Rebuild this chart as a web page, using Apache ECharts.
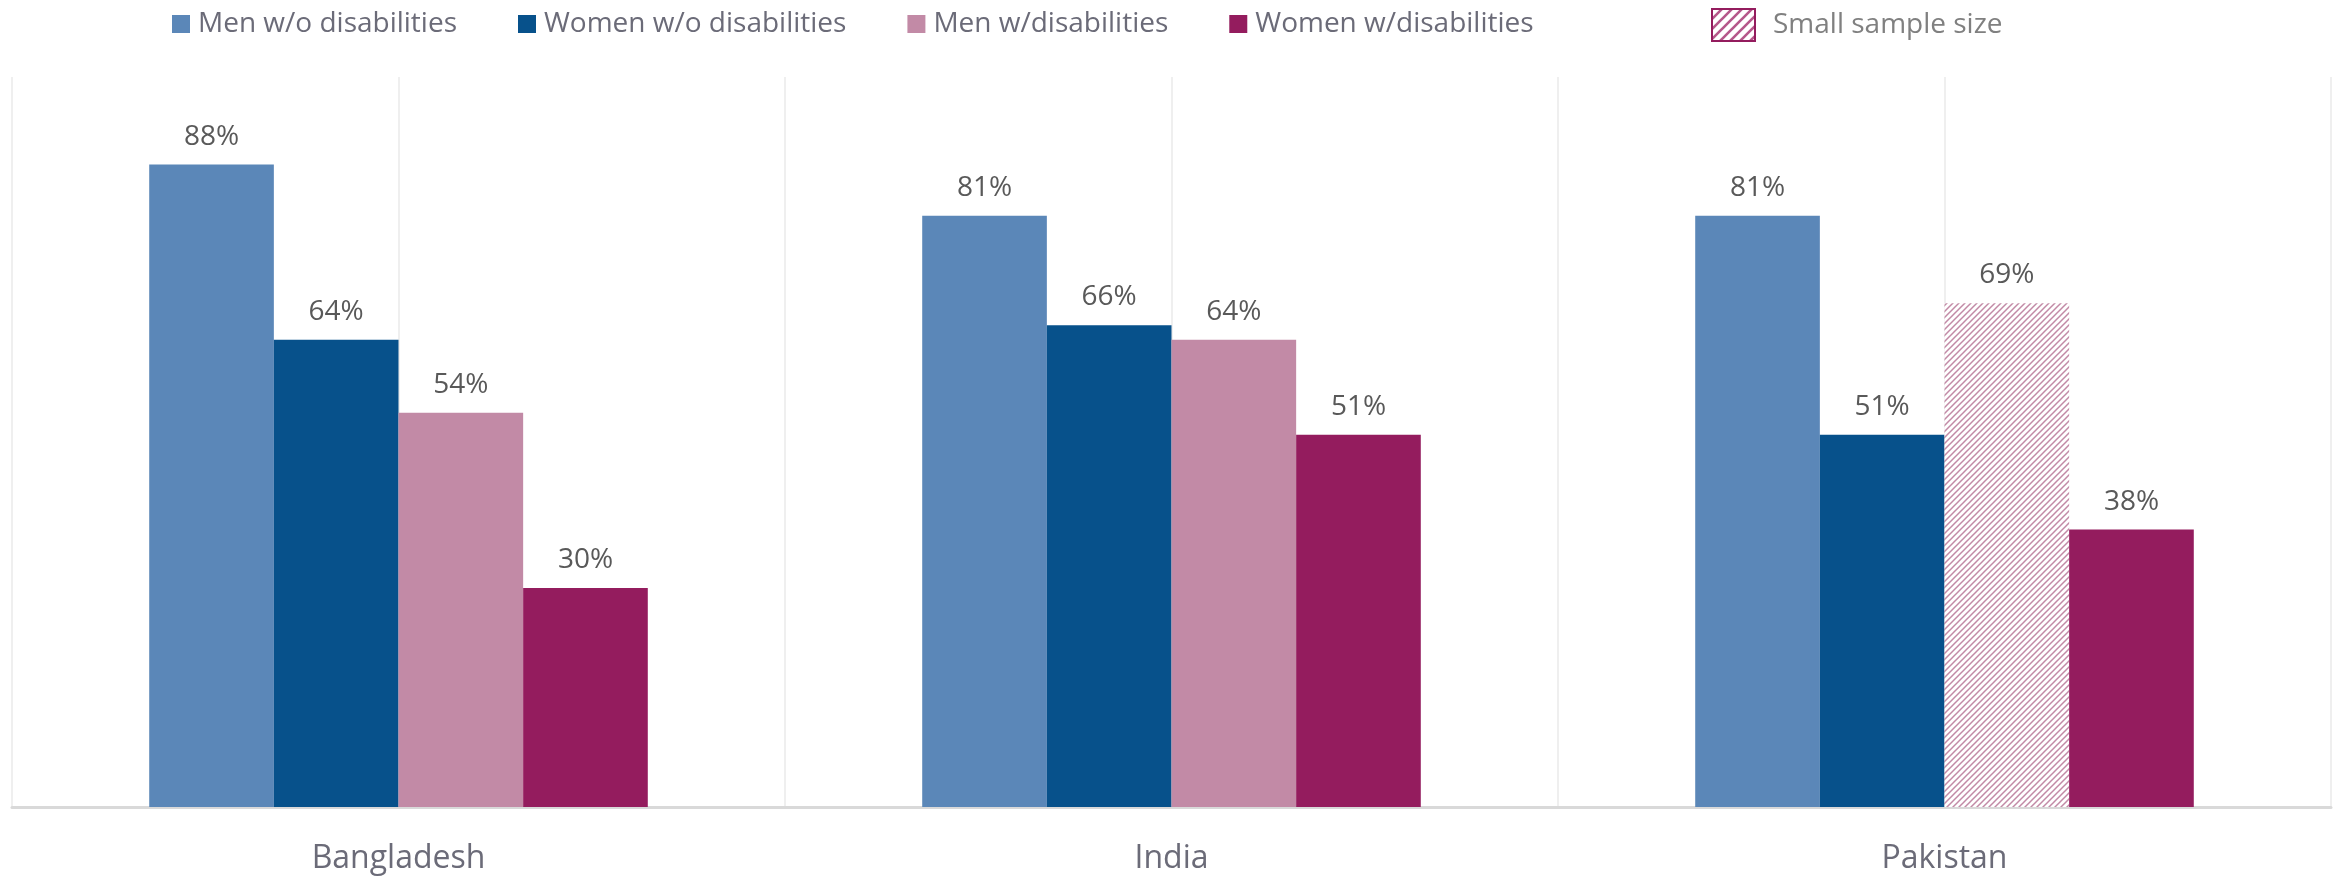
<!DOCTYPE html>
<html>
<head>
<meta charset="utf-8">
<script src="https://cdn.jsdelivr.net/npm/echarts@6/dist/echarts.min.js"></script>
<style>
  html, body { margin: 0; padding: 0; background: #ffffff; }
  #chart { width: 2339px; height: 876px; }
</style>
</head>
<body>
<div id="chart"></div>
<script>
// Share of each group (%), by country
const countries = ['Bangladesh', 'India', 'Pakistan'];
const seriesNames = ['Men w/o disabilities', 'Women w/o disabilities', 'Men w/disabilities', 'Women w/disabilities'];
const menWithout = [88, 81, 81];
const womenWithout = [64, 66, 51];
const menWith = [54, 64, 69];
const womenWith = [30, 51, 38];
// true where the estimate rests on a small sample
const menWithSmallSample = [false, false, true];
const smallSampleLabel = 'Small sample size';

const colors = ['#5B87B8', '#07518B', '#C28AA6', '#941C5E'];
const FONT = '"Open Sans", "Liberation Sans", sans-serif';
const TEXT = '#595959';

// Diagonal hatch tile (white ground, "///" strokes)
function hatchTile(size, width, lineColor) {
  const s = size;
  const c = document.createElement('canvas');
  c.width = s; c.height = s;
  const g = c.getContext('2d');
  g.fillStyle = '#ffffff';
  g.fillRect(0, 0, s, s);
  g.strokeStyle = lineColor;
  g.lineWidth = width;
  g.beginPath();
  g.moveTo(0, s); g.lineTo(s, 0);
  g.moveTo(-s / 2, s / 2); g.lineTo(s / 2, -s / 2);
  g.moveTo(s / 2, s + s / 2); g.lineTo(s + s / 2, s / 2);
  g.stroke();
  return c;
}
const barHatch = { image: hatchTile(6, 1.5, '#C28AA6'), repeat: 'repeat' };
const keyHatch = { image: hatchTile(10, 2.6, '#B5588A'), repeat: 'repeat' };

const valueLists = [menWithout, womenWithout, menWith, womenWith];

const labelStyle = {
  show: true,
  position: 'top',
  distance: 14,
  formatter: '{c}%',
  color: TEXT,
  fontFamily: FONT,
  fontSize: 28
};

const barSeries = valueLists.map((vals, i) => ({
  name: seriesNames[i],
  type: 'bar',
  xAxisIndex: 0,
  barGap: '0%',
  barCategoryGap: '35.5%',
  itemStyle: { color: colors[i] },
  label: labelStyle,
  data: vals.map((v, k) => {
    if (i === 2 && menWithSmallSample[k]) {
      return { value: v, itemStyle: { color: barHatch } };
    }
    return v;
  })
}));

// Legend-only entry for the hatch key (kept on the helper axis so it takes no bar slot)
barSeries.push({
  name: smallSampleLabel,
  type: 'bar',
  xAxisIndex: 1,
  data: [],
  itemStyle: { color: keyHatch, borderColor: '#941C5E', borderWidth: 2 }
});

const chart = echarts.init(document.getElementById('chart'));
chart.setOption({
  animation: false,
  backgroundColor: '#ffffff',
  legend: [
    {
      data: seriesNames.map(n => ({ name: n, icon: 'rect' })),
      left: 167,
      top: 5,
      itemWidth: 18,
      itemHeight: 18,
      itemGap: 61,
      selectedMode: false,
      textStyle: { color: '#6B6B78', fontFamily: FONT, fontSize: 28, padding: [0, 0, 0, 3] }
    },
    {
      data: [{ name: smallSampleLabel, icon: 'rect' }],
      left: 1706,
      top: 3,
      itemWidth: 43,
      itemHeight: 32,
      selectedMode: false,
      textStyle: { color: '#808080', fontFamily: FONT, fontSize: 28, padding: [0, 0, 0, 13] }
    }
  ],
  grid: { left: 12, right: 8, top: 77, bottom: 69, containLabel: false },
  xAxis: [
    {
      type: 'category',
      data: countries,
      axisLine: { lineStyle: { color: '#D9D9D9', width: 3 } },
      axisTick: { show: false },
      axisLabel: { color: '#6B6B78', fontFamily: FONT, fontSize: 32, margin: 36 },
      splitLine: { show: false }
    },
    {
      // half-category grid lines
      type: 'category',
      data: ['a', 'b', 'c', 'd', 'e', 'f'],
      position: 'bottom',
      axisLine: { show: false },
      axisTick: { show: false },
      axisLabel: { show: false },
      splitLine: { show: true, lineStyle: { color: '#EFEFEF', width: 2 } }
    }
  ],
  yAxis: {
    type: 'value',
    min: 0,
    max: 100,
    show: false,
    splitLine: { show: false }
  },
  series: barSeries
});
</script>
</body>
</html>
